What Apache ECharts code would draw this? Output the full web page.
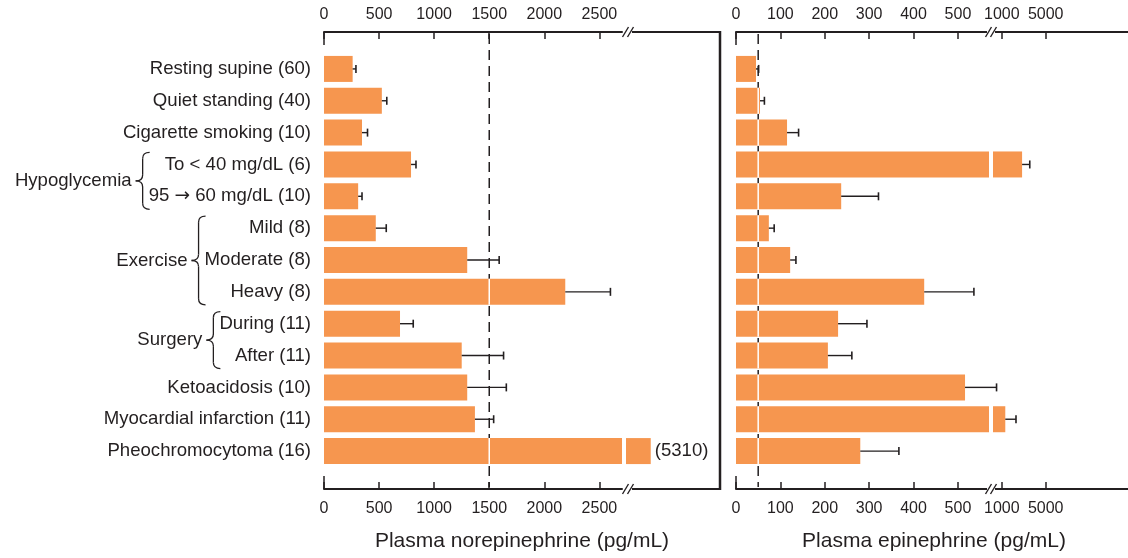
<!DOCTYPE html>
<html><head><meta charset="utf-8">
<script src="https://cdn.jsdelivr.net/npm/echarts@6/dist/echarts.min.js"></script>
<style>html,body{margin:0;padding:0;background:#fff}#c{width:1128px;height:558px}</style>
</head><body><div id="c"></div>
<script>
// ---------------- DATA ----------------
const categories = ['Resting supine (60)', 'Quiet standing (40)', 'Cigarette smoking (10)',
  'To < 40 mg/dL (6)', '95 → 60 mg/dL (10)', 'Mild (8)', 'Moderate (8)', 'Heavy (8)',
  'During (11)', 'After (11)', 'Ketoacidosis (10)', 'Myocardial infarction (11)', 'Pheochromocytoma (16)'];
const norepiMean = [260, 525, 345, 790, 310, 470, 1300, 2190, 690, 1250, 1300, 1370, 5310];
const norepiErr  = [30, 45, 50, 45, 35, 95, 290, 410, 120, 380, 355, 170, null];
const epiMean    = [45, 54, 115, 2850, 237, 74, 122, 424, 230, 207, 516, 1320, 280];
const epiErr     = [6, 10, 26, 700, 84, 12, 13, 112, 65, 54, 71, 975, 87];
const norepiTicks = [0, 500, 1000, 1500, 2000, 2500];
const epiTicksLow = [0, 100, 200, 300, 400, 500];
const epiTicksHigh = [1000, 5000];
const norepiRef = 1500;
const epiRef = 50;
const groupNames = ['Hypoglycemia', 'Exercise', 'Surgery'];
const groupFrom = [3, 5, 8];
const groupTo = [4, 7, 9];
const norepiTitle = 'Plasma norepinephrine (pg/mL)';
const epiTitle = 'Plasma epinephrine (pg/mL)';

// ---------------- LAYOUT / STYLE ----------------
const INK = '#231f20', BAR = '#f6964f';
const FONT = '"Liberation Sans", Arial, Helvetica, sans-serif';
const ARROW_FONT = '"DejaVu Sans", sans-serif';
const LBL = 18.6;
const GT = 53, GH = 414, AX_T = 21, AX_B = 22, BAR_W = 26;
const panels = [
  {left: 324, width: 298, min: 0, max: 2705, ticks: norepiTicks},
  {left: 626, width: 94, min: 5085, max: 5940, ticks: []},
  {left: 736, width: 253, min: 0, max: 570, ticks: epiTicksLow},
  {left: 993, width: 135, min: 200, max: 12500, ticks: epiTicksHigh}
];

const chart = echarts.init(document.getElementById('c'));

const grid = panels.map(p => ({left: p.left, width: p.width, top: GT, height: GH, outerBoundsMode: 'none', containLabel: false}));
const xAxis = [];
panels.forEach((p, g) => {
  ['top', 'bottom'].forEach(pos => {
    const hasTicks = p.ticks.length > 0;
    xAxis.push({
      type: 'value', gridIndex: g, position: pos, offset: pos === 'top' ? AX_T : AX_B,
      min: p.min, max: p.max,
      axisLine: {show: true, onZero: false, lineStyle: {color: INK, width: 2}},
      axisTick: {show: hasTicks, inside: true, length: 7, lineStyle: {color: INK, width: 1.5}, customValues: p.ticks},
      axisLabel: {show: hasTicks, customValues: p.ticks, color: INK, fontSize: 16, fontFamily: FONT,
        margin: pos === 'top' ? 9 : 12, formatter: v => String(v)},
      splitLine: {show: false}
    });
  });
});
const yAxis = panels.map((p, g) => ({
  type: 'category', gridIndex: g, data: categories, inverse: true,
  axisLine: {show: false}, axisTick: {show: false},
  axisLabel: {show: g === 0, color: INK, fontSize: LBL, fontFamily: FONT, margin: 13,
    formatter: v => v.replace('→', '{a|→}'),
    rich: {a: {fontFamily: ARROW_FONT, fontSize: LBL, color: INK}}}
}));

function barSeries(g, vals) {
  return {type: 'bar', xAxisIndex: 2 * g + 1, yAxisIndex: g, data: vals, barWidth: BAR_W,
    itemStyle: {color: BAR}, clip: true, silent: true, z: 2, animation: false};
}
function errSeries(g, items) {
  return {type: 'custom', coordinateSystem: 'cartesian2d', xAxisIndex: 2 * g + 1, yAxisIndex: g,
    data: items, encode: {x: 0, y: 2}, z: 4, silent: true, animation: false,
    renderItem: (params, api) => {
      const v = api.value(0), e = api.value(1), c = api.value(2);
      const p0 = api.coord([v, c]), p1 = api.coord([v + e, c]);
      return {type: 'group', children: [
        {type: 'line', shape: {x1: p0[0], y1: p0[1], x2: p1[0], y2: p1[1]}, style: {stroke: INK, lineWidth: 1.4}},
        {type: 'line', shape: {x1: p1[0], y1: p1[1] - 4, x2: p1[0], y2: p1[1] + 4}, style: {stroke: INK, lineWidth: 1.6}}
      ]};
    }};
}
function refSeries(g, ref) {
  return {type: 'custom', coordinateSystem: 'cartesian2d', xAxisIndex: 2 * g + 1, yAxisIndex: g,
    data: [[ref, 0]], z: 1, silent: true, animation: false,
    renderItem: (params, api) => {
      const x = api.coord([api.value(0), 0])[0];
      const cs = params.coordSys;
      return {type: 'line', shape: {x1: x, y1: cs.y - AX_T + 2, x2: x, y2: cs.y + cs.height + AX_B - 2},
        style: {stroke: INK, lineWidth: 1.5, lineDash: [10, 6]}};
    }};
}
function refOverBars(g, ref, means) {
  const items = [];
  means.forEach((m, i) => { if (m > ref) items.push([ref, i]); });
  return {type: 'custom', coordinateSystem: 'cartesian2d', xAxisIndex: 2 * g + 1, yAxisIndex: g,
    data: items, z: 3, silent: true, animation: false,
    renderItem: (params, api) => {
      const pt = api.coord([api.value(0), api.value(1)]);
      return {type: 'line', shape: {x1: pt[0], y1: pt[1] - BAR_W / 2, x2: pt[0], y2: pt[1] + BAR_W / 2},
        style: {stroke: '#fff', lineWidth: 1.5}};
    }};
}

const nMax = panels[0].max, eMax = panels[2].max;
const nErrA = [], eErrA = [], eErrB = [];
norepiMean.forEach((m, i) => { if (norepiErr[i] != null && m <= nMax) nErrA.push([m, norepiErr[i], i]); });
epiMean.forEach((m, i) => { if (epiErr[i] != null) (m <= eMax ? eErrA : eErrB).push([m, epiErr[i], i]); });

const pheoB = barSeries(1, norepiMean.map(v => v > nMax ? v : '-'));
pheoB.label = {show: true, position: 'right', distance: 4, formatter: p => '(' + p.value + ')',
  color: INK, fontSize: LBL, fontFamily: FONT};

const series = [
  barSeries(0, norepiMean), pheoB,
  barSeries(2, epiMean), barSeries(3, epiMean.map(v => v > eMax ? v : '-')),
  errSeries(0, nErrA), errSeries(2, eErrA), errSeries(3, eErrB),
  refSeries(0, norepiRef), refSeries(2, epiRef),
  refOverBars(0, norepiRef, norepiMean), refOverBars(2, epiRef, epiMean)
];

chart.setOption({animation: false, backgroundColor: '#fff', grid, xAxis, yAxis, series,
  textStyle: {fontFamily: FONT}});

// ---------------- decorations (frame, breaks, braces, titles) ----------------
const yTop = GT - AX_T, yBot = GT + GH + AX_B;
const gfx = [];
function line(x1, y1, x2, y2, w) {
  gfx.push({type: 'line', silent: true, z: 10, shape: {x1, y1, x2, y2}, style: {stroke: INK, lineWidth: w}});
}
function quad(x1, y1, cx, cy, x2, y2, w) {
  gfx.push({type: 'bezierCurve', silent: true, z: 10, shape: {x1, y1, x2, y2, cpx1: cx, cpy1: cy},
    style: {stroke: INK, lineWidth: w, fill: null}});
}
// right border of left panel
const rb = panels[1].left + panels[1].width;
line(rb, yTop - 1, rb, yBot + 1, 2.5);
// longer zero ticks
[panels[0].left, panels[2].left].forEach(x => { line(x, yTop, x, yTop + 13, 1.5); line(x, yBot - 13, x, yBot, 1.5); });
// break marks
[(panels[0].left + panels[0].width + panels[1].left) / 2 + 4, (panels[2].left + panels[2].width + panels[3].left) / 2]
  .forEach(cx => [yTop, yBot].forEach(cy => {
    gfx.push({type: 'rect', silent: true, z: 9, shape: {x: cx - 4, y: cy - 2, width: 8, height: 4}, style: {fill: '#fff'}});
    [-2.5, 2.5].forEach(d => line(cx + d - 3, cy + 5, cx + d + 3, cy - 5, 1.4));
  }));
// braces and group labels
const ctx = document.createElement('canvas').getContext('2d');
function textW(s) {
  let w = 0;
  s.split('→').forEach((part, k) => {
    ctx.font = LBL + 'px ' + FONT; w += ctx.measureText(part).width;
    if (k > 0) { ctx.font = LBL + 'px ' + ARROW_FONT; w += ctx.measureText('→').width; }
  });
  return w;
}
const labelRight = panels[0].left - 13;
function cyOf(i) { return chart.convertToPixel({yAxisIndex: 0}, categories[i]); }
groupNames.forEach((name, k) => {
  let w = 0;
  for (let i = groupFrom[k]; i <= groupTo[k]; i++) w = Math.max(w, textW(categories[i]));
  const xe = labelRight - w + 1, xt = xe - 14, xs = xt + 7;
  const y1 = cyOf(groupFrom[k]) - 12, y2 = cyOf(groupTo[k]) + 13, ym = (y1 + y2) / 2, r = 6;
  quad(xe, y1, xs, y1, xs, y1 + r, 1.3);
  line(xs, y1 + r, xs, ym - r, 1.3);
  quad(xs, ym - r, xs, ym, xt, ym, 1.3);
  quad(xt, ym, xs, ym, xs, ym + r, 1.3);
  line(xs, ym + r, xs, y2 - r, 1.3);
  quad(xs, y2 - r, xs, y2, xe, y2, 1.3);
  gfx.push({type: 'text', silent: true, z: 10, x: xt - 4, y: ym,
    style: {text: name, fill: INK, font: LBL + 'px ' + FONT, align: 'right', verticalAlign: 'middle'}});
});
// axis titles
gfx.push({type: 'text', silent: true, x: (panels[0].left + rb) / 2, y: 541,
  style: {text: norepiTitle, fill: INK, font: '21px ' + FONT, align: 'center', verticalAlign: 'middle'}});
gfx.push({type: 'text', silent: true, x: 934, y: 541,
  style: {text: epiTitle, fill: INK, font: '21px ' + FONT, align: 'center', verticalAlign: 'middle'}});

chart.setOption({graphic: gfx});
</script></body></html>
